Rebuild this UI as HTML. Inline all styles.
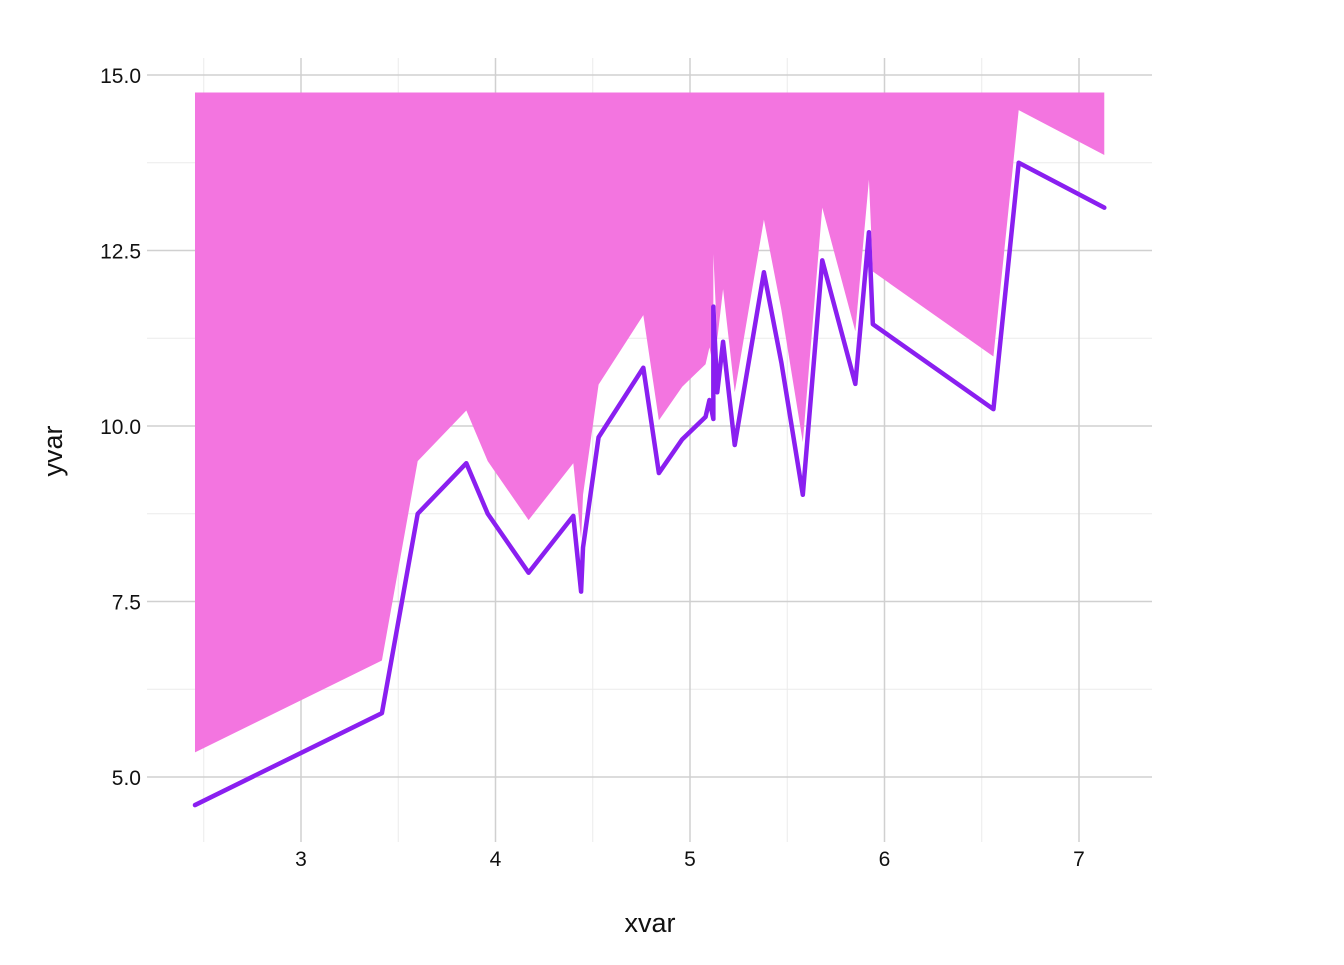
<!DOCTYPE html>
<html><head><meta charset="utf-8"><style>
body{margin:0;background:#fff}
svg text{font-family:"Liberation Sans","DejaVu Sans",sans-serif;fill:#111}
</style></head><body>
<svg id="chart" width="1344" height="960" xmlns="http://www.w3.org/2000/svg">
<g id="grid"></g>
<g id="ribbon-g"></g>
<g id="line-g"></g>
<g id="axes"></g>
<text x="650" y="932" text-anchor="middle" font-size="27">xvar</text>
<text x="62" y="451" text-anchor="middle" font-size="27" transform="rotate(-90 62 451)">yvar</text>
</svg>
<script>
const xs=[2.455,3.416,3.60,3.85,3.96,4.17,4.40,4.44,4.45,4.53,4.76,4.84,4.96,5.08,5.10,5.12,5.12,5.14,5.17,5.23,5.38,5.47,5.58,5.68,5.85,5.92,5.94,6.56,6.69,7.13];
const ys=[4.60,5.91,8.75,9.47,8.75,7.91,8.72,7.64,8.27,9.84,10.83,9.33,9.81,10.13,10.37,10.10,11.70,10.48,11.20,9.73,12.19,10.9,9.02,12.36,10.60,12.76,11.45,10.24,13.75,13.11];
const ribbonOffset=0.75;
const ribbonTop=14.75;
const xTicks=[3,4,5,6,7];
const yTicks=[5.0,7.5,10.0,12.5,15.0];
const xMinor=[2.5,3.5,4.5,5.5,6.5];
const yMinor=[6.25,8.75,11.25,13.75];
const X=v=>301+(v-3)*194.5;
const Y=v=>777-(v-5)*70.2;
const NS="http://www.w3.org/2000/svg";
function mk(tag,attrs,parent){const e=document.createElementNS(NS,tag);for(const k in attrs)e.setAttribute(k,attrs[k]);parent.appendChild(e);return e;}
const grid=document.getElementById('grid');
const L=147,R=1152,T=58,B=842;
xMinor.forEach(v=>{const e=mk('line',{x1:X(v),x2:X(v),y1:T,y2:B,stroke:'#ebebeb','stroke-width':1},grid);

});
yMinor.forEach(v=>{const e=mk('line',{x1:L,x2:R,y1:Y(v),y2:Y(v),stroke:'#ebebeb','stroke-width':1},grid);

});
xTicks.forEach(v=>{const e=mk('line',{x1:X(v),x2:X(v),y1:T,y2:B,stroke:'#d0d0d0','stroke-width':1.5},grid);

});
yTicks.forEach(v=>{const e=mk('line',{x1:L,x2:R,y1:Y(v),y2:Y(v),stroke:'#d0d0d0','stroke-width':1.5},grid);

});
let d='M'+X(xs[0])+','+Y(ribbonTop);
for(let i=1;i<xs.length;i++)d+=' L'+X(xs[i])+','+Y(ribbonTop);
for(let i=xs.length-1;i>=0;i--)d+=' L'+X(xs[i])+','+Y(ys[i]+ribbonOffset);
d+='Z';
const rib=mk('path',{d:d,fill:'#f375e0'},document.getElementById('ribbon-g'));


const pts=xs.map((x,i)=>X(x)+','+Y(ys[i])).join(' ');
const ln=mk('polyline',{points:pts,fill:'none',stroke:'#8a1ff0','stroke-width':4.5,'stroke-linejoin':'round','stroke-linecap':'round'},document.getElementById('line-g'));


const axes=document.getElementById('axes');
xTicks.forEach(v=>{const t=mk('text',{x:X(v),y:866,'text-anchor':'middle','font-size':21},axes);t.textContent=String(v);

});
yTicks.forEach(v=>{const t=mk('text',{x:141,y:Y(v)+8,'text-anchor':'end','font-size':21},axes);t.textContent=v.toFixed(1);

});
</script>
</body></html>
